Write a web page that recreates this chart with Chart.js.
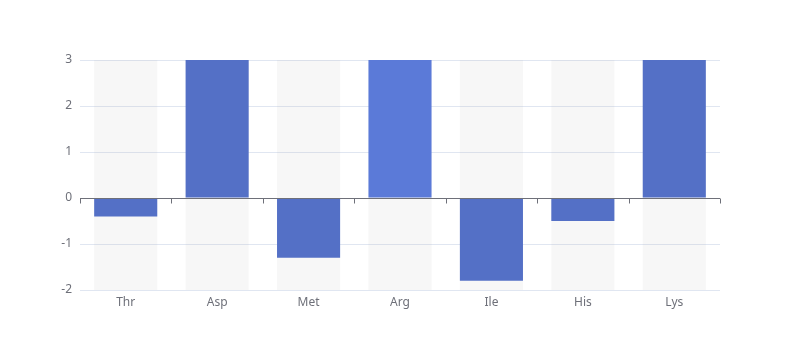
<!DOCTYPE html>
<html>
<head>
<meta charset="utf-8">
<script src="https://cdn.jsdelivr.net/npm/chart.js@4/dist/chart.umd.min.js"></script>
<style>
  html, body { margin: 0; padding: 0; background: #ffffff; }
  #wrap { width: 800px; height: 360px; }
</style>
</head>
<body>
<div id="wrap"><canvas id="c" width="800" height="360"></canvas></div>
<script>
const categories = ['Thr', 'Asp', 'Met', 'Arg', 'Ile', 'His', 'Lys'];
const values = [-0.4, 3, -1.3, 3, -1.8, -0.5, 3];
const yTicks = [-2, -1, 0, 1, 2, 3];
const yMin = -2;
const yMax = 3;

const barColors = ['#5470c6', '#5470c6', '#5470c6', '#5b7ad8', '#5470c6', '#5470c6', '#5470c6'];
const axisColor = '#6e7079';
const gridColor = '#e0e6f1';
const FONT = '"Noto Sans", "Liberation Sans", sans-serif';

const zeroAxis = {
  id: 'zeroAxis',
  afterDatasetsDraw(chart) {
    const ctx = chart.ctx;
    const xs = chart.scales.x, ys = chart.scales.y;
    const y0 = Math.round(ys.getPixelForValue(0)) + 0.5;
    ctx.save();
    ctx.strokeStyle = axisColor;
    ctx.lineWidth = 1;
    ctx.beginPath();
    ctx.moveTo(xs.left, y0);
    ctx.lineTo(xs.right, y0);
    const n = categories.length;
    const step = (xs.right - xs.left) / n;
    for (let i = 0; i <= n; i++) {
      const x = Math.round(xs.left + i * step) + 0.5;
      ctx.moveTo(x, y0);
      ctx.lineTo(x, y0 + 5);
    }
    ctx.stroke();
    ctx.restore();
  }
};

new Chart(document.getElementById('c'), {
  type: 'bar',
  data: {
    labels: categories,
    datasets: [
      {
        data: values,
        backgroundColor: barColors,
        borderWidth: 0,
        barPercentage: 0.69,
        categoryPercentage: 1,
        grouped: false,
        order: 1
      },
      {
        data: categories.map(() => [yMin, yMax]),
        backgroundColor: 'rgba(180,180,180,0.1)',
        borderWidth: 0,
        barPercentage: 0.69,
        categoryPercentage: 1,
        grouped: false,
        order: 2
      }
    ]
  },
  options: {
    responsive: false,
    animation: false,
    events: [],
    layout: { padding: { top: 60, right: 80, left: 0, bottom: 0 } },
    plugins: { legend: { display: false }, tooltip: { enabled: false } },
    scales: {
      x: {
        grid: { display: false, drawTicks: false },
        border: { display: false },
        ticks: { color: axisColor, font: { family: FONT, size: 12 }, padding: 5, maxRotation: 0 },
        afterFit(s) { s.height = 70; }
      },
      y: {
        min: yMin,
        max: yMax,
        afterBuildTicks(s) { s.ticks = yTicks.map(v => ({ value: v })); },
        grid: {
          color: (c) => c.tick && c.tick.value === 0 ? 'rgba(0,0,0,0)' : gridColor,
          drawTicks: false,
          lineWidth: 1
        },
        border: { display: false },
        ticks: { color: axisColor, font: { family: FONT, size: 12 }, padding: 8 },
        afterFit(s) { s.width = 80; }
      }
    }
  },
  plugins: [zeroAxis]
});
</script>
</body>
</html>
